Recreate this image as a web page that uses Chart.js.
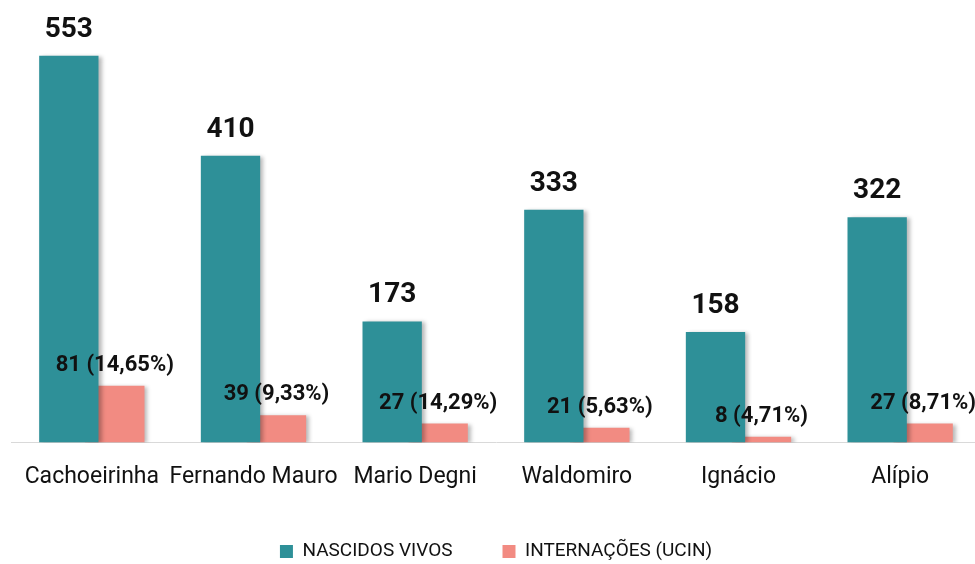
<!DOCTYPE html>
<html>
<head>
<meta charset="utf-8">
<script src="https://cdn.jsdelivr.net/npm/chart.js@4/dist/chart.umd.min.js"></script>
<style>
html,body{margin:0;padding:0;background:#fff;overflow:hidden;width:975px;height:564px;}
#wrap{position:absolute;left:0;top:0;width:992px;height:571px;}
</style>
</head>
<body>
<div id="wrap"><canvas id="c" width="992" height="571"></canvas></div>
<script>
const categories = ["Cachoeirinha", "Fernando Mauro", "Mario Degni", "Waldomiro", "Ignácio", "Alípio"];
const nascidosVivos = [553, 410, 173, 333, 158, 322];
const internacoes = [81, 39, 27, 21, 8, 27];
const internacoesPct = ["14,65%", "9,33%", "14,29%", "5,63%", "4,71%", "8,71%"];
const seriesNames = ["NASCIDOS VIVOS", "INTERNAÇÕES (UCIN)"];

const FONT = 'Roboto, "Liberation Sans", sans-serif';

const shadowPlugin = {
  id: 'barShadow',
  beforeDatasetDraw(chart) {
    const ctx = chart.ctx;
    ctx.save();
    ctx.shadowColor = 'rgba(0,0,0,0.28)';
    ctx.shadowBlur = 4;
    ctx.shadowOffsetX = 3;
    ctx.shadowOffsetY = 1;
  },
  afterDatasetDraw(chart) {
    chart.ctx.restore();
  }
};

const labelPlugin = {
  id: 'valueLabels',
  afterDatasetsDraw(chart) {
    const ctx = chart.ctx;
    ctx.save();
    ctx.fillStyle = '#111';
    ctx.textAlign = 'center';
    ctx.textBaseline = 'alphabetic';
    chart.getDatasetMeta(0).data.forEach((el, i) => {
      ctx.font = 'bold 28px ' + FONT;
      ctx.fillText(String(nascidosVivos[i]), el.x, el.y - 19);
    });
    chart.getDatasetMeta(1).data.forEach((el, i) => {
      ctx.font = 'bold 22px ' + FONT;
      ctx.fillText(internacoes[i] + ' (' + internacoesPct[i] + ')', el.x, el.y - 15);
    });
    ctx.restore();
  }
};

new Chart(document.getElementById('c'), {
  type: 'bar',
  data: {
    labels: categories,
    datasets: [
      { label: seriesNames[0], data: nascidosVivos, backgroundColor: '#2E9098', borderWidth: 0 },
      { label: seriesNames[1], data: internacoes, backgroundColor: '#F28B82', borderWidth: 0 }
    ]
  },
  options: {
    responsive: false,
    animation: false,
    events: [],
    categoryPercentage: 0.569,
    barPercentage: 1.29,
    layout: { padding: { left: 11, right: 11, top: 23, bottom: 0 } },
    scales: {
      x: {
        grid: { display: false, drawTicks: false },
        border: { display: true, color: '#d9d9d9', width: 1 },
        ticks: { color: '#111', font: { family: FONT, size: 23 }, padding: 21, maxRotation: 0, minRotation: 0, autoSkip: false },
        afterFit(scale) { scale.height -= 20; }
      },
      y: {
        display: false,
        min: 0,
        max: 600
      }
    },
    plugins: {
      legend: {
        position: 'bottom',
        labels: {
          color: '#111',
          font: { family: FONT, size: 19 },
          boxWidth: 13,
          boxHeight: 13,
          padding: 50
        }
      },
      tooltip: { enabled: false }
    }
  },
  plugins: [shadowPlugin, labelPlugin]
});
</script>
</body>
</html>
